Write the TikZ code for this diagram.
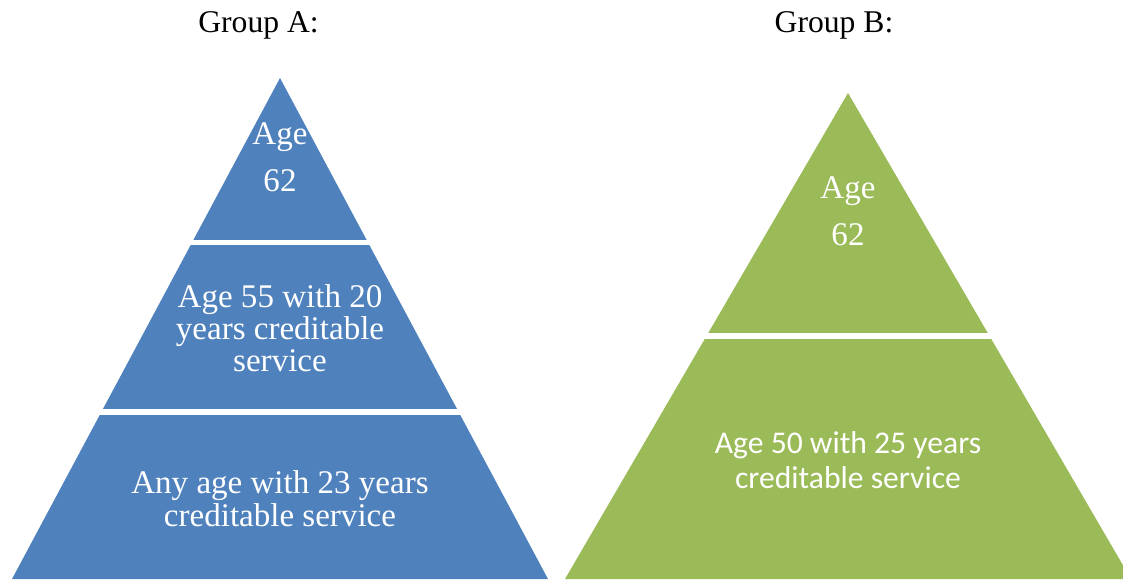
\documentclass[tikz,border=0pt]{standalone}
\usepackage{fontspec}
\setmainfont{Liberation Serif}
\newfontfamily\carlito{Carlito}
\usepackage{xcolor}
\usepackage{tikz}
\usetikzlibrary{positioning, calc}
\definecolor{tierblue}{HTML}{4F81BD}
\definecolor{tiergreen}{HTML}{9BBB59}

\begin{document}
\begin{tikzpicture}[
    heading/.style={font=\fontsize{9.0}{11}\selectfont, text=black},
    tiertext/.style={text=white, align=center, inner sep=0pt},
    gap/.style={white, line width=1.7pt}
  ]
                \useasboundingbox (0,0) rectangle (11.23,5.79);
                \clip (0,0) rectangle (11.23,5.79);
                % group A
                \fill[tierblue] (2.80,5.01) -- (0.12,0) -- (5.48,0) -- cycle;
                \draw[gap] (0,3.365) -- (6,3.365);
                \draw[gap] (0,1.67) -- (6,1.67);
                % group B
                \fill[tiergreen] (8.48,4.86) -- (5.65,0) -- (11.31,0) -- cycle;
                \draw[gap] (5.5,2.43) -- (11.5,2.43);
                \node[heading] (headA) at (2.585,5.54) {Group A:};
                \node[heading] (headB) at (8.34,5.54) {Group B:};
                \node[tiertext, font=\fontsize{9.4}{13.4}\selectfont] (aTop) at (2.80,4.22) {Age\\62};
                \node[tiertext, font=\fontsize{9.4}{9.1}\selectfont] (aMid) at (2.80,2.51) {Age 55 with 20\\years creditable\\service};
                \node[tiertext, font=\fontsize{9.4}{9.4}\selectfont] (aLow) at (2.80,0.805) {Any age with 23 years\\creditable service};
                \node[tiertext, font=\fontsize{9.4}{13.4}\selectfont] (bTop) at (8.48,3.675) {Age\\62};
                \node[tiertext, font=\carlito\fontsize{9.0}{10}\selectfont] (bLow) at (8.48,1.185) {Age 50 with 25 years\\creditable service};
            \end{tikzpicture}
\end{document}
